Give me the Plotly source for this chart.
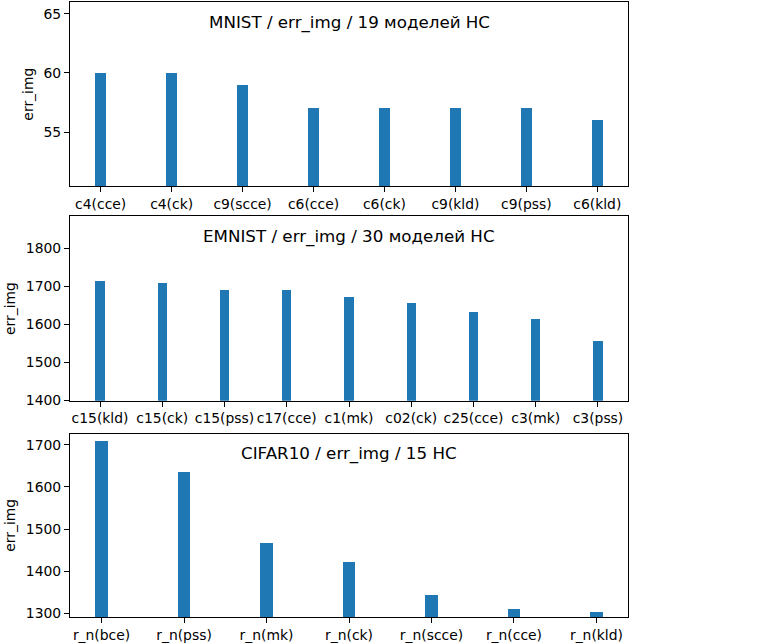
import plotly.graph_objects as go
from plotly.subplots import make_subplots

mnist_labels = ["c4(cce)", "c4(ck)", "c9(scce)", "c6(cce)", "c6(ck)", "c9(kld)", "c9(pss)", "c6(kld)"]
mnist_values = [60, 60, 59, 57, 57, 57, 57, 56]

emnist_labels = ["c15(kld)", "c15(ck)", "c15(pss)", "c17(cce)", "c1(mk)", "c02(ck)", "c25(cce)", "c3(mk)", "c3(pss)"]
emnist_values = [1713, 1709, 1690, 1690, 1672, 1656, 1632, 1614, 1555]

cifar_labels = ["r_n(bce)", "r_n(pss)", "r_n(mk)", "r_n(ck)", "r_n(scce)", "r_n(cce)", "r_n(kld)"]
cifar_values = [1709, 1635, 1468, 1424, 1344, 1313, 1305]

titles = ["MNIST / err_img / 19 моделей НС", "EMNIST / err_img / 30 моделей НС", "CIFAR10 / err_img / 15 НС"]
ylim_factors = [(0.9, 1.1), (0.9, 1.1), (0.99, 1.01)]
yticks = [[55, 60, 65], [1400, 1500, 1600, 1700, 1800], [1300, 1400, 1500, 1600, 1700]]

panels = [(mnist_labels, mnist_values), (emnist_labels, emnist_values), (cifar_labels, cifar_values)]

fig = make_subplots(rows=3, cols=1)
domains = [[0.7002, 1.0], [0.3517, 0.6515], [0.0, 0.2982]]
font = "DejaVu Sans"
bw = 0.15

for i, (labels, vals) in enumerate(panels):
    r = i + 1
    fig.add_trace(go.Bar(x=labels, y=vals, width=bw, marker=dict(color="#1f77b4", line=dict(width=0)),
                         showlegend=False, hoverinfo="skip"), row=r, col=1)
    n = len(labels)
    lo = -bw / 2
    hi = n - 1 + bw / 2
    m = (hi - lo) * 0.05
    fl, fh = ylim_factors[i]
    fig.update_xaxes(row=r, col=1, type="category", range=[lo - m, hi + m],
                     showline=True, mirror=True, linecolor="black", linewidth=1.1,
                     ticks="outside", ticklen=5, tickwidth=1, tickcolor="black",
                     showgrid=False, zeroline=False,
                     tickfont=dict(family=font, size=13.9, color="black"), domain=[0, 1])
    fig.update_yaxes(row=r, col=1, range=[min(vals) * fl, max(vals) * fh],
                     tickvals=yticks[i],
                     showline=True, mirror=True, linecolor="black", linewidth=1.1,
                     ticks="outside", ticklen=5, tickwidth=1, tickcolor="black",
                     showgrid=False, zeroline=False,
                     tickfont=dict(family=font, size=13.9, color="black"),
                     title=dict(text="err_img", font=dict(family=font, size=13.9, color="black"), standoff=6),
                     domain=domains[i])
    xr = "x" if r == 1 else f"x{r}"
    fig.add_annotation(text=titles[i], xref=f"{xr} domain", yref=f"y{'' if r == 1 else r} domain",
                       x=0.5, y=1, yanchor="middle", yshift=-20, showarrow=False,
                       font=dict(family=font, size=16.7, color="black"))

fig.update_layout(width=758, height=644, margin=dict(l=70, r=130, t=1, b=26),
                  plot_bgcolor="white", paper_bgcolor="white", bargap=0)
fig.write_html("out.html", config={"displayModeBar": False},
               post_script="document.body.style.margin='0';document.body.style.overflow='hidden';")
